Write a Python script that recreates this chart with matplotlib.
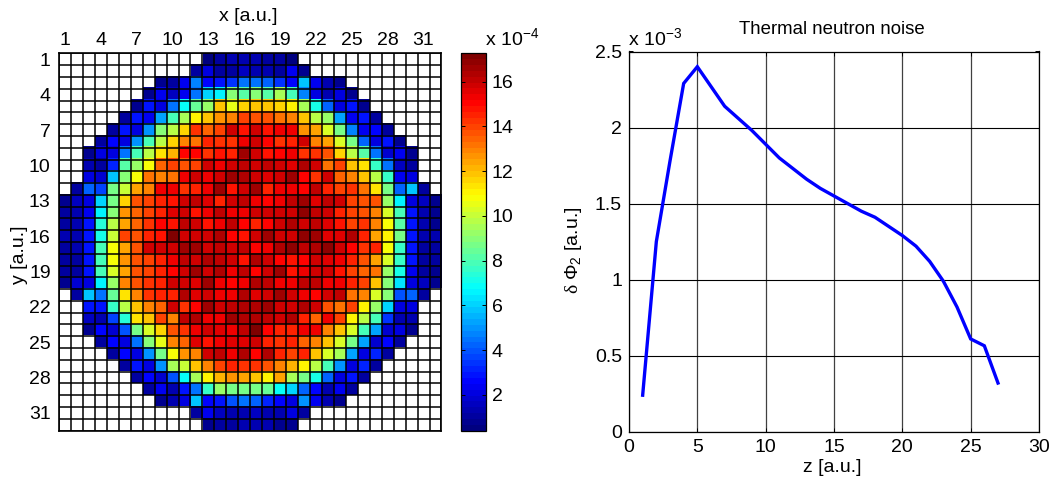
import numpy as np
import matplotlib
matplotlib.use("Agg")
import matplotlib.pyplot as plt
from matplotlib.colors import LinearSegmentedColormap

plt.rcParams['font.family'] = ['Liberation Sans', 'DejaVu Sans']
plt.rcParams['mathtext.fontset'] = 'custom'
plt.rcParams['mathtext.rm'] = 'Liberation Sans'
plt.rcParams['mathtext.it'] = 'Liberation Serif'
plt.rcParams['mathtext.default'] = 'regular'

FS = 14
W, H = 1049, 478

# first coloured column (1-based) of every row, then the values in 1e-4 units
first_col = [13, 12, 9, 8, 7, 6, 5, 4, 3, 3, 3, 2, 1, 1, 1, 1,
             1, 1, 1, 1, 2, 3, 3, 3, 4, 5, 6, 7, 8, 9, 12, 13]
row_values = [
 [0.6,1.0,1.2,1.3,1.2,1.1,1.0,0.6],
 [1.1,2.0,1.1,1.0,1.5,1.4,1.4,1.1,2.4,0.9],
 [0.7,1.1,2.4,4.8,2.7,2.8,3.3,4.4,4.6,4.2,3.3,2.6,5.9,2.5,1.3,0.8],
 [0.9,2.3,1.5,2.4,4.5,6.0,6.7,8.9,8.3,8.9,8.2,9.4,7.8,4.7,2.2,1.4,2.2,0.9],
 [0.9,3.0,2.0,4.4,6.9,8.5,9.2,12.0,10.5,11.5,12.0,12.0,11.6,11.0,9.6,7.2,4.2,2.0,2.8,0.9],
 [1.1,3.0,2.4,5.2,7.8,9.5,11.0,12.0,12.6,13.0,14.0,13.8,13.8,13.2,12.8,11.8,9.8,9.3,5.2,2.4,2.8,1.0],
 [1.1,3.0,2.2,5.0,9.0,9.8,11.5,14.2,13.5,14.0,15.7,14.8,15.9,14.8,15.4,15.2,12.7,12.3,10.2,8.6,4.8,2.4,2.6,1.0],
 [1.0,2.7,2.2,5.0,8.0,9.8,11.5,13.0,13.3,14.4,14.3,14.2,15.4,15.8,15.1,14.3,14.4,15.7,13.0,12.5,10.3,8.6,4.2,2.1,2.8,0.9],
 [0.9,2.2,2.0,4.4,7.8,9.8,11.4,12.2,15.0,15.1,14.2,14.7,14.6,16.6,15.7,14.7,15.1,15.2,14.3,14.3,13.8,11.7,9.8,8.2,4.4,1.9,2.5,0.8],
 [1.2,1.1,3.2,8.2,9.3,10.9,13.5,14.1,13.6,14.0,15.9,15.2,15.7,16.1,15.9,16.2,15.8,15.5,16.3,15.9,13.3,14.0,11.8,11.3,7.6,4.4,1.5,1.0],
 [2.0,1.8,5.9,8.9,10.8,13.3,13.0,13.3,15.4,15.9,15.2,15.7,16.5,16.4,15.8,15.5,15.8,16.6,15.1,14.2,15.8,13.4,13.0,11.9,9.8,7.6,2.4,2.0],
 [1.0,4.2,3.6,8.8,10.0,12.4,13.0,15.4,15.2,14.2,14.6,15.4,16.5,14.9,15.7,16.6,14.6,15.3,15.2,15.0,16.0,14.4,14.1,14.2,13.2,11.4,8.6,4.3,5.8,1.0],
 [0.9,1.6,2.0,6.0,8.8,11.5,13.6,14.0,14.5,14.9,15.9,16.0,15.6,14.5,15.9,16.1,15.2,15.1,15.2,16.2,16.7,15.5,16.0,15.7,14.1,13.7,13.7,9.3,6.7,2.2,1.6,0.7],
 [1.0,1.3,2.3,6.6,8.9,12.7,13.5,14.1,14.6,15.5,15.9,14.9,15.4,16.2,15.2,15.2,15.8,15.7,15.9,15.9,17.0,16.2,15.7,14.4,13.9,13.6,12.8,10.3,7.8,2.9,1.2,0.8],
 [1.1,1.4,2.9,7.4,9.8,12.3,13.5,14.2,15.0,14.9,16.0,15.8,14.9,15.2,16.1,15.0,14.6,15.0,15.8,16.3,15.9,16.0,15.6,14.9,14.0,14.3,13.0,10.9,8.2,3.0,1.3,0.9],
 [1.2,1.2,3.0,7.2,10.0,14.0,13.8,14.6,14.8,17.2,15.8,15.9,15.8,16.3,15.0,14.8,15.9,16.6,15.9,15.7,16.9,16.6,15.5,15.5,16.3,14.6,12.4,11.2,8.6,2.9,1.2,1.2],
 [1.1,1.2,2.9,8.0,10.9,12.5,13.8,15.9,15.8,15.7,16.5,16.7,15.8,16.2,15.9,16.2,15.0,15.2,16.4,16.8,16.2,16.4,17.0,15.7,15.1,14.2,14.5,10.8,7.6,3.0,1.1,1.1],
 [1.0,1.1,2.9,8.0,10.7,12.7,13.7,14.1,14.6,15.2,16.2,15.9,16.3,16.0,15.7,14.9,16.3,15.9,15.0,14.7,15.0,15.8,15.5,15.3,14.4,13.7,12.3,10.3,7.7,3.0,1.0,1.0],
 [1.0,1.1,2.9,7.8,10.4,12.4,13.7,14.1,14.5,15.0,15.8,16.7,15.7,16.4,15.3,16.2,15.0,15.9,16.6,14.8,15.3,15.9,15.9,14.7,14.1,13.4,13.2,9.3,7.0,2.5,1.0,0.9],
 [0.9,1.9,2.2,6.5,9.3,13.0,13.6,14.2,14.6,15.8,15.8,15.6,16.5,15.2,15.0,15.2,16.3,16.1,15.2,15.2,16.2,16.0,15.2,15.2,14.5,14.0,11.9,9.0,6.2,2.0,1.7,0.7],
 [1.0,5.8,4.4,8.4,11.3,12.8,14.2,14.4,14.4,16.4,15.5,15.8,15.2,15.2,16.4,15.6,15.8,16.6,15.8,15.2,15.0,15.8,16.0,13.3,12.8,10.4,9.0,4.0,4.3,1.0],
 [2.8,2.8,7.7,9.8,11.8,12.9,13.4,15.7,14.3,15.1,16.7,15.8,16.2,16.3,16.3,16.7,15.9,15.8,16.4,15.8,13.8,13.1,13.9,11.2,9.2,6.0,2.0,2.2],
 [1.5,1.3,3.6,7.3,11.3,11.8,14.0,13.0,16.0,16.3,15.2,15.3,16.5,16.3,16.3,16.2,15.9,16.4,14.4,13.4,15.2,14.1,11.2,9.8,8.0,3.4,1.4,1.2],
 [0.9,2.6,1.9,4.0,8.6,10.2,11.7,13.6,14.3,15.2,15.8,15.6,15.2,16.2,17.2,15.0,14.4,14.4,15.4,15.2,12.8,12.0,10.2,8.0,5.2,1.8,2.2,0.8],
 [1.0,2.6,2.0,4.6,9.0,10.6,13.0,13.5,15.6,14.9,15.2,15.6,15.6,15.8,14.6,14.2,14.4,13.4,12.8,12.0,10.4,8.8,5.4,1.9,2.6,1.0],
 [1.0,2.7,2.0,5.0,8.8,10.7,12.6,12.8,15.8,16.0,15.4,16.3,15.0,16.3,14.4,13.9,14.6,11.8,10.3,9.4,5.2,2.2,3.2,1.1],
 [1.0,2.8,2.2,5.0,9.4,10.0,11.8,13.0,14.0,14.4,14.2,14.2,13.6,12.9,12.1,11.0,9.8,8.0,5.0,2.0,3.2,1.0],
 [1.0,2.6,1.8,4.0,6.9,9.6,11.0,12.1,12.6,12.3,11.8,11.0,12.4,9.4,8.8,7.0,4.2,2.0,2.8,1.0],
 [1.0,2.4,1.4,3.0,4.4,7.7,9.2,8.6,8.8,8.6,8.4,6.9,6.0,4.3,2.6,1.4,2.4,1.0],
 [0.8,1.2,2.2,5.8,2.6,3.0,3.9,4.6,4.3,3.2,2.7,2.1,5.0,2.4,1.3,0.8],
 [1.0,2.4,1.5,1.2,1.3,1.5,1.3,1.4,2.0,1.0],
 [0.7,1.1,1.1,1.4,1.3,1.2,0.9,0.7],
]
heat_ticks = [1, 4, 7, 10, 13, 16, 19, 22, 25, 28, 31]
cbar_ticks = [2, 4, 6, 8, 10, 12, 14, 16]
cbar_range = [0.39, 17.28]

z = list(range(1, 28))
noise = [0.24, 1.25, 1.78, 2.29, 2.40, 2.27, 2.14, 2.06, 1.98, 1.89, 1.80, 1.73, 1.66,
         1.60, 1.55, 1.50, 1.45, 1.41, 1.35, 1.29, 1.22, 1.12, 0.99, 0.82, 0.61, 0.565, 0.32]
line_xticks = [0, 5, 10, 15, 20, 25, 30]
line_yticks = [0, 0.5, 1, 1.5, 2, 2.5]
line_ylabels = ['0', '0.5', '1', '1.5', '2', '2.5']


def box(x0, y0, x1, y1):
    return [x0 / W, 1 - y1 / H, (x1 - x0) / W, (y1 - y0) / H]


n = len(row_values)
grid = np.full((n, n), np.nan)
for i, (c, vals) in enumerate(zip(first_col, row_values)):
    grid[i, c - 1:c - 1 + len(vals)] = vals

# the 64-level jet of the original software
cmap = LinearSegmentedColormap('jet64', {
    'red': [(0, 0, 0), (3 / 8, 0, 0), (5 / 8, 1, 1), (7 / 8, 1, 1), (1, .5, .5)],
    'green': [(0, 0, 0), (1 / 8, 0, 0), (3 / 8, 1, 1), (5 / 8, 1, 1), (7 / 8, 0, 0), (1, 0, 0)],
    'blue': [(0, .5, .5), (1 / 8, 1, 1), (3 / 8, 1, 1), (5 / 8, 0, 0), (1, 0, 0)],
}, N=64)
cmap.set_bad('white')

fig = plt.figure(figsize=(W / 100, H / 100), dpi=100, facecolor='white')

# heat map
ax = fig.add_axes(box(59, 53.5, 441.5, 430.5))
im = ax.imshow(np.ma.masked_invalid(grid), cmap=cmap, vmin=cbar_range[0], vmax=cbar_range[1],
               aspect='auto', interpolation='nearest',
               extent=(0.5, n + 0.5, n + 0.5, 0.5))
ax.set_xticks(heat_ticks)
ax.set_yticks(heat_ticks)
ax.set_xticks(np.arange(0.5, n + 1), minor=True)
ax.set_yticks(np.arange(0.5, n + 1), minor=True)
ax.grid(which='minor', color='black', lw=1.1)
ax.set_axisbelow(False)
ax.xaxis.tick_top()
ax.tick_params(which='both', length=0, labelsize=FS, pad=3)
ax.tick_params(axis='y', pad=6)
ax.set_xlabel('x [a.u.]', fontsize=FS)
ax.xaxis.set_label_position('top')
ax.xaxis.set_label_coords((248 - 59) / 382.5, (430.5 - 17) / 377, transform=ax.transAxes)
ax.xaxis.label.set_va('center')
ax.set_ylabel('y [a.u.]', fontsize=FS)
ax.yaxis.set_label_coords((19 - 59) / 382.5, (430.5 - 255) / 377, transform=ax.transAxes)
ax.yaxis.label.set_va('center')
for s in ax.spines.values():
    s.set_linewidth(1.2)

# colour bar
cax = fig.add_axes(box(460.5, 53, 486, 431))
cb = fig.colorbar(im, cax=cax, ticks=cbar_ticks)
cb.outline.set_linewidth(0.9)
cax.tick_params(which='major', direction='in', length=3, width=0.7, left=True, right=True,
                labelsize=FS, pad=4)
cax.minorticks_off()
fig.text(485 / W, 1 - 38 / H, 'x 10$^{-4}$', fontsize=FS, ha='left', va='center')

# line chart
ax2 = fig.add_axes(box(629, 51.5, 1039, 431.7))
ax2.plot(z, noise, color='#0000ff', lw=2.4, solid_joinstyle='miter')
ax2.set_xlim(0, 30)
ax2.set_ylim(0, 2.5)
ax2.set_xticks(line_xticks)
ax2.set_yticks(line_yticks)
ax2.set_yticklabels(line_ylabels)
ax2.grid(True, axis='x', color='#404040', lw=0.9)
ax2.grid(True, axis='y', color='black', lw=0.8)
ax2.set_axisbelow(True)
ax2.tick_params(direction='in', length=3, width=0.7, labelsize=FS, pad=5, top=True, right=True)
ax2.set_xlabel('z [a.u.]', fontsize=FS)
ax2.xaxis.set_label_coords((832 - 629) / 410, -(467 - 431.7) / 380.2, transform=ax2.transAxes)
ax2.xaxis.label.set_va('center')
ax2.set_ylabel(r'$\mathit{\delta\ \Phi}_{2}$ [a.u.]', fontsize=FS)
ax2.yaxis.set_label_coords((574 - 629) / 410, (431.7 - 250) / 380.2, transform=ax2.transAxes)
ax2.yaxis.label.set_va('center')
for s in ax2.spines.values():
    s.set_linewidth(0.9)
fig.text(832 / W, 1 - 30 / H, 'Thermal neutron noise', fontsize=13.4, ha='center', va='center')
fig.text(628 / W, 1 - 38 / H, 'x 10$^{-3}$', fontsize=FS, ha='left', va='center')

fig.savefig('out.png', dpi=100)
